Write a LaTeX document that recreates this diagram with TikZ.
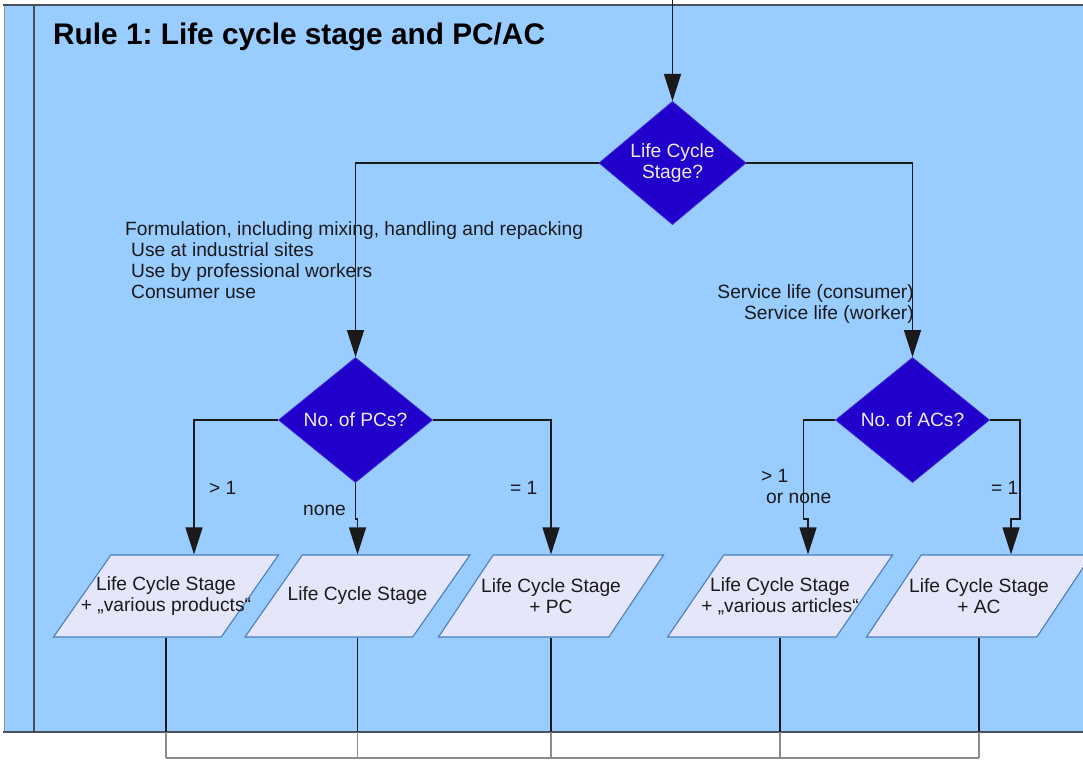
\documentclass[tikz,border=0pt]{standalone}
\usepackage{fontspec}
\setsansfont{Liberation Sans}
\usepackage{tikz}
\usetikzlibrary{arrows.meta}
\usetikzlibrary{calc,positioning,shapes.geometric}

\definecolor{lanefill}{RGB}{153,204,255}
\definecolor{laneline}{RGB}{72,80,90}
\definecolor{decfill}{RGB}{34,0,204}
\definecolor{decline}{RGB}{60,40,215}
\definecolor{iofill}{RGB}{230,230,250}
\definecolor{ioline}{RGB}{74,126,187}
\definecolor{txt}{RGB}{26,26,26}

\begin{document}
\frenchspacing
\begin{tikzpicture}[x=1pt, y=-1pt,
  treenode/.style = {align=center, inner sep=0pt, font=\sffamily\fontsize{19.2}{21}\selectfont},
  decision/.style = {treenode, diamond, fill=decfill, draw=decline, line width=0.8pt, text=white!93!black, minimum width=154pt, minimum height=125pt},
  iobox/.style = {treenode, trapezium, trapezium left angle=55, trapezium right angle=125, trapezium stretches body=true, inner xsep=-32pt, inner ysep=21.5pt, fill=iofill, draw=ioline, line width=1.1pt, text=txt, minimum width=225pt, minimum height=82pt},
  lbl/.style = {treenode, align=left, text=txt},
  flow/.style = {draw=txt, line width=1.2pt},
  arr/.style = {flow, -{Triangle[width=17pt,length=27pt]}},
  bus/.style = {draw=gray!90, line width=1.2pt},
]
\useasboundingbox (0,0) rectangle (1083,760);
\fill [lanefill] (4,5) rectangle (1083,732);
\draw [laneline!60, line width=0.8pt] (4,5) -- (4,732);
\draw [laneline, line width=1.5pt] (34,5) -- (34,732);
\draw [laneline, line width=2pt] (3,5) -- (1083,5);
\draw [laneline, line width=2pt] (3,732) -- (1083,732);

\node [treenode, anchor=base west, font=\sffamily\bfseries\fontsize{29.8}{34}\selectfont, text=black] (title) at (53,45) {Rule 1: Life cycle stage and PC/AC};

\node [lbl, anchor=north west] (uses) at (125,221.4) {Formulation, including mixing, handling and repacking\\\hspace*{6pt}Use at industrial sites\\\hspace*{6pt}Use by professional workers\\\hspace*{6pt}Consumer use};
\node [lbl, align=right, anchor=north east] (service) at (914,284.2) {Service life (consumer)\\Service life (worker)};
\node [lbl, anchor=base west] (gt1) at (209,494) {> 1};
\node [lbl, anchor=base west] (none) at (303,515) {none};
\node [lbl, anchor=base west] (eq1) at (510,494) {= 1};
\node [lbl, anchor=north west] (gt2) at (761,469.4) {> 1\\\hspace*{5pt}or none};
\node [lbl, anchor=base west] (eq2) at (991,494) {= 1};

\coordinate (entry) at (672.5,0);
\coordinate (bottom) at (0,732);
\coordinate (join) at (0,758);
\node [decision, minimum width=147pt, minimum height=110pt] (stage) at (672.5,163) {Life Cycle\\Stage?};
\node [decision] (pcs) at (355.5,420) {No. of PCs?};
\node [decision] (acs) at (912.5,420) {No. of ACs?};
\node [iobox] (lcs1) at (166,596) {Life Cycle Stage\\+ „various products“};
\node [iobox, inner ysep=32pt] (lcs2) at (357.5,596) {Life Cycle Stage};
\node [iobox] (lcs3) at (551,596) {Life Cycle Stage\\+ PC};
\node [iobox] (lcs4) at (780,596) {Life Cycle Stage\\+ „various articles“};
\node [iobox] (lcs5) at (979,596) {Life Cycle Stage\\+ AC};

\draw [arr] (entry) -- (stage);
\draw [arr] (stage.west) -| (pcs.north);
\draw [arr] (stage.east) -| (acs.north);
\draw [arr] (pcs.west) -| ([xshift=28pt]lcs1.north);
\draw [arr] (pcs.south) -- ++(0,36) -| (lcs2.north);
\draw [arr] (pcs.east) -| (lcs3.north);
\draw [arr] (acs.west) -- ++(-32,0) -- ++(0,99) -| ([xshift=28pt]lcs4.north);
\draw [arr] (acs.east) -- ++(30,0) -- ++(0,99) -| ([xshift=32pt]lcs5.north);

\foreach \n in {lcs1,lcs2,lcs3,lcs4,lcs5} {
  \draw [flow] (\n) -- (\n |- bottom);
  \draw [bus] (\n |- bottom) -- (\n |- join);
}
\draw [bus] (lcs1 |- join) -- (lcs5 |- join);
\end{tikzpicture}
\end{document}
